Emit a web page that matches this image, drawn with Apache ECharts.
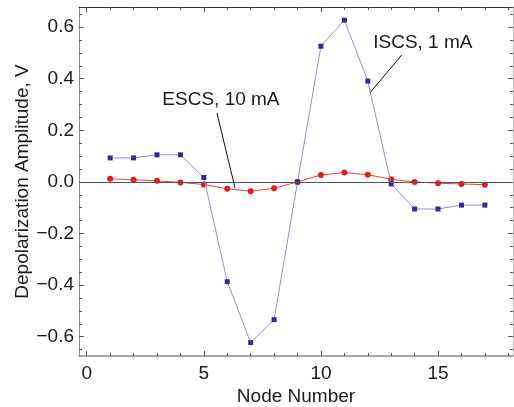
<!DOCTYPE html>
<html>
<head>
<meta charset="utf-8">
<script src="https://cdn.jsdelivr.net/npm/echarts@6/dist/echarts.min.js"></script>
<style>
  html, body { margin: 0; padding: 0; background: #fff; }
  #chart { width: 514px; height: 407px; }
</style>
</head>
<body>
<div id="chart"></div>
<script>
// node numbers
const nodes = [1, 2, 3, 4, 5, 6, 7, 8, 9, 10, 11, 12, 13, 14, 15, 16, 17]
// ISCS, 1 mA
const iscs = [0.093, 0.093, 0.105, 0.105, 0.017, -0.387, -0.623, -0.534, 0.0, 0.526, 0.627, 0.391, -0.008, -0.105, -0.105, -0.09, -0.09]
// ESCS, 10 mA
const escs = [0.012, 0.008, 0.004, -0.002, -0.01, -0.027, -0.036, -0.025, 0.0, 0.027, 0.036, 0.028, 0.01, 0.0, -0.005, -0.008, -0.011]

const xMajorTicks = [0, 5, 10, 15]
const xMinorTicks = [0, 1, 2, 3, 4, 5, 6, 7, 8, 9, 10, 11, 12, 13, 14, 15, 16, 17, 18]
const yMajorTicks = [-0.6, -0.4, -0.2, 0, 0.2, 0.4, 0.6]
const yMinorTicks = [-0.65, -0.6, -0.55, -0.5, -0.45, -0.4, -0.35, -0.3, -0.25, -0.2, -0.15, -0.1, -0.05, 0,
  0.05, 0.1, 0.15, 0.2, 0.25, 0.3, 0.35, 0.4, 0.45, 0.5, 0.55, 0.6, 0.65]

const font = 'Liberation Sans, Arial, sans-serif'
const xMin = -0.33, xMax = 18.2
const yMin = -0.675, yMax = 0.678

const zip = (xs, ys) => xs.map((x, i) => [x, ys[i]])

// one axis drawer for ticks/labels; extra copies give the minor ticks and the top/right frame
const xAxisCfg = (pos, ticks, len, opts = {}) => ({
  type: 'value', position: pos, min: xMin, max: xMax,
  splitLine: { show: false },
  axisLine: { show: opts.line !== undefined, onZero: false, lineStyle: { color: opts.line, width: opts.lineWidth || 1 } },
  axisTick: { show: true, inside: true, length: len, customValues: ticks, lineStyle: { color: '#555' } },
  axisLabel: opts.label ? { show: true, customValues: ticks, fontFamily: font, fontSize: 19, color: '#1a1a1a', margin: 8 } : { show: false },
  ...(opts.extra || {})
})
const yAxisCfg = (pos, ticks, len, opts = {}) => ({
  type: 'value', position: pos, min: yMin, max: yMax,
  splitLine: { show: false },
  axisLine: { show: opts.line !== undefined, onZero: false, lineStyle: { color: opts.line, width: opts.lineWidth || 1 } },
  axisTick: { show: true, inside: true, length: len, customValues: ticks, lineStyle: { color: '#555' } },
  axisLabel: opts.label ? {
    show: true, customValues: ticks, fontFamily: font, fontSize: 19, color: '#1a1a1a', margin: 5,
    formatter: v => v.toFixed(1).replace('-', '\u2212')
  } : { show: false },
  ...(opts.extra || {})
})

const chart = echarts.init(document.getElementById('chart'), null, { renderer: 'canvas' })

chart.setOption({
  animation: false,
  backgroundColor: '#fff',
  grid: { left: 79, right: 1, top: 7, bottom: 51, containLabel: false, outerBoundsMode: 'none' },
  xAxis: [
    xAxisCfg('bottom', xMajorTicks, 5, { line: '#8a8a8a', lineWidth: 1.5, label: true, extra: {
      name: 'Node Number', nameLocation: 'middle', nameGap: 31, nameMoveOverlap: false,
      nameTextStyle: { fontFamily: font, fontSize: 19, color: '#1a1a1a' }
    } }),
    xAxisCfg('bottom', xMinorTicks, 3),
    xAxisCfg('top', xMajorTicks, 5, { line: '#333' }),
    xAxisCfg('top', xMinorTicks, 3)
  ],
  yAxis: [
    yAxisCfg('left', yMajorTicks, 5, { line: '#8a8a8a', label: true, extra: {
      name: 'Depolarization Amplitude, V', nameLocation: 'middle', nameGap: 47, nameMoveOverlap: false,
      nameTextStyle: { fontFamily: font, fontSize: 19, color: '#1a1a1a' }
    } }),
    yAxisCfg('left', yMinorTicks, 3),
    yAxisCfg('right', yMajorTicks, 5, { line: '#bbb' }),
    yAxisCfg('right', yMinorTicks, 3)
  ],
  series: [
    {
      name: 'ESCS, 10 mA',
      type: 'line',
      data: zip(nodes, escs),
      symbol: 'circle',
      symbolSize: 6,
      lineStyle: { color: '#e8403a', width: 1 },
      itemStyle: { color: '#e11d1d' },
      z: 3,
      markLine: {
        silent: true,
        symbol: 'none',
        label: { show: false },
        lineStyle: { color: '#555', width: 1, type: 'solid' },
        data: [
          { yAxis: 0 },
          [{ coord: [5.56, 0.267], lineStyle: { color: '#111' } }, { coord: [6.33, -0.023] }]
        ]
      },
      markPoint: {
        symbol: 'rect', symbolSize: 0,
        label: { show: true, position: 'inside', formatter: '{b}', fontFamily: font, fontSize: 19, color: '#1a1a1a' },
        data: [{ name: 'ESCS, 10 mA', coord: [5.73, 0.318] }]
      }
    },
    {
      name: 'ISCS, 1 mA',
      type: 'line',
      data: zip(nodes, iscs),
      symbol: 'rect',
      symbolSize: 5,
      lineStyle: { color: '#8f8fda', width: 1 },
      itemStyle: { color: '#2e2e8c' },
      z: 4,
      markLine: {
        silent: true,
        symbol: 'none',
        label: { show: false },
        lineStyle: { color: '#111', width: 1, type: 'solid' },
        data: [
          [{ coord: [13.45, 0.492] }, { coord: [12.09, 0.345] }]
        ]
      },
      markPoint: {
        symbol: 'rect', symbolSize: 0,
        label: { show: true, position: 'inside', formatter: '{b}', fontFamily: font, fontSize: 19, color: '#1a1a1a' },
        data: [{ name: 'ISCS, 1 mA', coord: [14.35, 0.538] }]
      }
    }
  ]
})
</script>
</body>
</html>
